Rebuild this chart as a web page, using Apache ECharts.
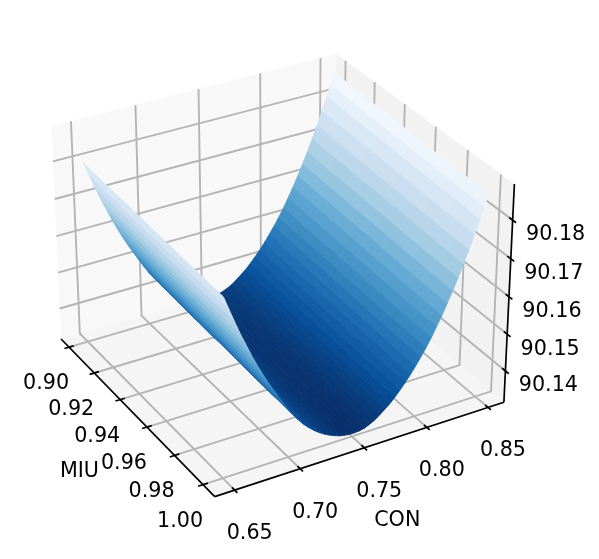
<!DOCTYPE html>
<html><head><meta charset="utf-8">
<style>html,body{margin:0;padding:0;background:#fff}#c{width:599px;height:559px}</style>
<script src="https://cdn.jsdelivr.net/npm/echarts@6/dist/echarts.min.js"></script>
</head><body><div id="c"></div>
<script>
// ---- values ----
const miuTicks = [0.90, 0.92, 0.94, 0.96, 0.98, 1.00];
const conTicks = [0.65, 0.70, 0.75, 0.80, 0.85];
const zTicks = [90.14, 90.15, 90.16, 90.17, 90.18];
const miuLimits = [0.8935, 1.0080];
const conLimits = [0.6350, 0.8632];
const zLimits = [90.1314, 90.1892];
const miuValues = [0.900,0.904,0.908,0.912,0.916,0.920,0.924,0.928,0.932,0.936,0.940,0.944,0.948,0.952,0.956,0.960,0.964,0.968,0.972,0.976,0.980,0.984,0.988,0.992,0.996,1.000];
const riseByMiu = [0.0018,0.0017,0.0016,0.0015,0.0014,0.0014,0.0013,0.0012,0.0012,0.0011,0.0010,0.0009,0.0009,0.0008,0.0007,0.0006,0.0006,0.0005,0.0004,0.0004,0.0003,0.0002,0.0002,0.0001,0.0001,0];
const conValues = [0.652,0.656,0.660,0.664,0.668,0.672,0.676,0.680,0.684,0.688,0.692,0.696,0.700,0.704,0.708,0.712,0.716,0.720,0.724,0.728,0.732,0.736,0.740,0.744,0.748,0.752,0.756,0.760,0.764,0.768,0.772,0.776,0.780,0.784,0.788,0.792,0.796,0.800,0.804,0.808,0.812,0.816,0.820,0.824,0.828,0.832,0.836,0.840,0.844,0.848,0.851,0.854];
const zByCon = [90.1783,90.1747,90.1712,90.1678,90.1647,90.1616,90.1587,90.1560,90.1534,90.1510,90.1487,90.1464,90.1442,90.1423,90.1405,90.1389,90.1376,90.1364,90.1354,90.1345,90.1338,90.1332,90.1327,90.1324,90.1322,90.1322,90.1323,90.1326,90.1332,90.1339,90.1349,90.1360,90.1371,90.1385,90.1400,90.1416,90.1433,90.1452,90.1472,90.1493,90.1516,90.1541,90.1567,90.1595,90.1624,90.1654,90.1687,90.1720,90.1756,90.1792,90.1821,90.1850];
const blues = ['#08306b','#08519c','#2171b5','#4292c6','#6baed6','#9ecae1','#c6dbef','#deebf7','#f7fbff'];

// ---- view: elevation 30, azimuth -30, box 4:4:3 ----
const rad = Math.PI / 180, el = 30 * rad, az = -30 * rad;
const boxXY = 1.19, boxZ = 0.893, camDist = 10, scale = 2784, originX = 278.4, originY = 264.7;
const R = [-Math.sin(az), Math.cos(az), 0];
const U = [-Math.sin(el) * Math.cos(az), -Math.sin(el) * Math.sin(az), Math.cos(el)];
const N = [Math.cos(el) * Math.cos(az), Math.cos(el) * Math.sin(az), Math.sin(el)];
const dot = (a, b) => a[0] * b[0] + a[1] * b[1] + a[2] * b[2];
const frac = (v, l) => (v - l[0]) / (l[1] - l[0]);
function viewUnit(u, v, w) {
  const p = [(u - .5) * boxXY, (v - .5) * boxXY, (w - .5) * boxZ];
  const d = camDist - dot(p, N);
  return { x: originX + scale * dot(p, R) / d, y: originY - scale * dot(p, U) / d, d };
}
const view = (m, c, z) => viewUnit(frac(m, miuLimits), frac(c, conLimits), frac(z, zLimits));

// ---- surface facets, far ones first ----
const zLow = Math.min(...zByCon), zHigh = Math.max(...zByCon) + riseByMiu[0];
const facets = [];
for (let i = 0; i < miuValues.length - 1; i++) {
  for (let j = 0; j < conValues.length - 1; j++) {
    const idx = [[i, j], [i + 1, j], [i + 1, j + 1], [i, j + 1]];
    const corners = idx.map(([a, b]) => [miuValues[a], conValues[b], zByCon[b] + riseByMiu[a]]);
    const mean = corners.reduce((s, q) => s + q[2], 0) / 4;
    const depth = corners.reduce((s, q) => s + view(q[0], q[1], q[2]).d, 0) / 4;
    facets.push({ corners, mean, depth });
  }
}
facets.sort((a, b) => b.depth - a.depth);

// ---- box parts, in 0..1 box units ----
const panes = [
  { pts: [[0,0,0],[0,1,0],[0,1,1],[0,0,1]], fill: '#f8f8f8' },
  { pts: [[0,1,0],[1,1,0],[1,1,1],[0,1,1]], fill: '#f2f2f2' },
  { pts: [[0,0,0],[1,0,0],[1,1,0],[0,1,0]], fill: '#f5f5f5' }
];
const gridPaths = [];
miuTicks.forEach(m => { const u = frac(m, miuLimits); gridPaths.push([[u,0,0],[u,1,0],[u,1,1]]); });
conTicks.forEach(c => { const v = frac(c, conLimits); gridPaths.push([[1,v,0],[0,v,0],[0,v,1]]); });
zTicks.forEach(z => { const w = frac(z, zLimits); gridPaths.push([[0,0,w],[0,1,w],[1,1,w]]); });
const axisPaths = [[[0,0,0],[1,0,0]], [[1,0,0],[1,1,0]], [[1,1,0],[1,1,1]]];
miuTicks.forEach(m => { const u = frac(m, miuLimits); axisPaths.push([[u,-0.016,0],[u,0.016,0]]); });
conTicks.forEach(c => { const v = frac(c, conLimits); axisPaths.push([[1-0.016,v,0],[1+0.016,v,0]]); });
zTicks.forEach(z => { const w = frac(z, zLimits); axisPaths.push([[1-0.018,1,w],[1+0.018,1,w]]); });

const labels = [];
miuTicks.forEach(m => labels.push({ at: [frac(m, miuLimits),0,0], text: m.toFixed(2), dx: -23, dy: 36.5 }));
conTicks.forEach(c => labels.push({ at: [1,frac(c, conLimits),0], text: c.toFixed(2), dx: 15, dy: 43.5 }));
zTicks.forEach(z => labels.push({ at: [1,1,frac(z, zLimits)], text: z.toFixed(2), dx: 43, dy: 15 }));
labels.push({ at: [frac(0.95, miuLimits),0,0], text: 'MIU', dx: -54, dy: 58 });
labels.push({ at: [1,frac(0.75, conLimits),0], text: 'CON', dx: 33, dy: 73 });

const toPoint = (api, q) => { const s = viewUnit(q[0], q[1], q[2]); return api.coord([s.x, s.y]); };
const idxData = a => a.map((_, i) => [i, i]);
const base = { type: 'custom', coordinateSystem: 'cartesian2d', clip: false, silent: true, animation: false };

const chart = echarts.init(document.getElementById('c'), null, { renderer: 'canvas' });
chart.setOption({
  animation: false,
  backgroundColor: '#ffffff',
  grid: { left: 0, right: 0, top: 0, bottom: 0 },
  xAxis: { type: 'value', min: 0, max: 599, show: false },
  yAxis: { type: 'value', min: 0, max: 559, inverse: true, show: false },
  series: [
    Object.assign({}, base, { name: 'panes', z: 1, data: idxData(panes), renderItem: (p, api) => {
      const d = panes[p.dataIndex];
      return { type: 'polygon', shape: { points: d.pts.map(q => toPoint(api, q)) }, style: { fill: d.fill } };
    }}),
    Object.assign({}, base, { name: 'grid', z: 2, data: idxData(gridPaths), renderItem: (p, api) => ({
      type: 'polyline', shape: { points: gridPaths[p.dataIndex].map(q => toPoint(api, q)) },
      style: { stroke: '#b4b4b4', lineWidth: 1.9, fill: 'none' }
    })}),
    Object.assign({}, base, { name: 'surface', z: 3, progressive: 0, data: idxData(facets), renderItem: (p, api) => {
      const f = facets[p.dataIndex];
      const pts = f.corners.map(q => { const s = view(q[0], q[1], q[2]); return api.coord([s.x, s.y]); });
      const col = echarts.color.lerp((f.mean - zLow) / (zHigh - zLow), blues);
      return { type: 'polygon', shape: { points: pts }, style: { fill: col, stroke: col, lineWidth: 0.9 } };
    }}),
    Object.assign({}, base, { name: 'axes', z: 4, data: idxData(axisPaths), renderItem: (p, api) => ({
      type: 'polyline', shape: { points: axisPaths[p.dataIndex].map(q => toPoint(api, q)) },
      style: { stroke: '#000', lineWidth: 1.7, fill: 'none' }
    })}),
    Object.assign({}, base, { name: 'labels', z: 5, data: idxData(labels), renderItem: (p, api) => {
      const l = labels[p.dataIndex], pt = toPoint(api, l.at);
      return { type: 'text', style: { x: pt[0] + l.dx, y: pt[1] + l.dy, text: l.text, fill: '#000',
        font: '20.7px "DejaVu Sans"', align: 'center', verticalAlign: 'middle' } };
    }})
  ]
});
</script></body></html>
